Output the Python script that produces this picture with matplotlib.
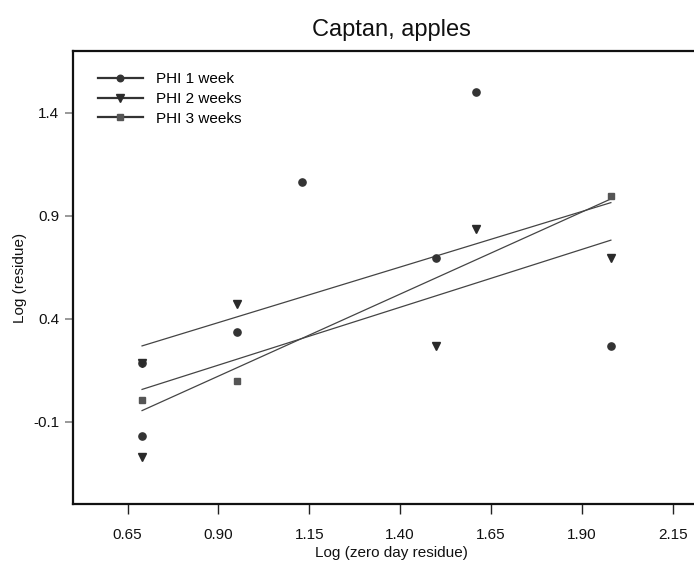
import numpy as np
import matplotlib
matplotlib.use("Agg")
import matplotlib.pyplot as plt
from matplotlib.lines import Line2D

plt.rcParams['font.family'] = ['Liberation Sans', 'DejaVu Sans']

# Log (zero day residue) vs Log (residue) by pre-harvest interval
phi1_x = [0.69, 0.69, 0.95, 1.13, 1.50, 1.61, 1.98]
phi1_y = [-0.17, 0.185, 0.337, 1.065, 0.695, 1.503, 0.266]

phi2_x = [0.69, 0.69, 0.95, 1.50, 1.61, 1.98]
phi2_y = [-0.27, 0.185, 0.471, 0.266, 0.835, 0.695]

phi3_x = [0.69, 0.95, 1.98]
phi3_y = [0.003, 0.099, 0.994]

labels = ["PHI 1 week", "PHI 2 weeks", "PHI 3 weeks"]
x_ticks = [0.65, 0.90, 1.15, 1.40, 1.65, 1.90, 2.15]
y_ticks = [1.4, 0.9, 0.4, -0.1]

fig = plt.figure(figsize=(6.94, 5.69), dpi=100)
ax = fig.add_axes([73 / 694, 65 / 569, 636 / 694, 453 / 569])

series = [
    (phi1_x, phi1_y, 'o', '#333333', 5.2),
    (phi2_x, phi2_y, 'v', '#2a2a2a', 5.8),
    (phi3_x, phi3_y, 's', '#555555', 4.8),
]

handles = []
for (xs, ys, mk, col, ms), lab in zip(series, labels):
    xs = np.asarray(xs)
    ys = np.asarray(ys)
    ax.plot(xs, ys, ls='none', marker=mk, color=col, ms=ms, mec=col, zorder=3)
    slope, icpt = np.polyfit(xs, ys, 1)
    xx = np.array([xs.min(), xs.max()])
    ax.plot(xx, slope * xx + icpt, color='#444444', lw=0.9, zorder=2)
    handles.append(Line2D([], [], color='#333333', lw=1.6, marker=mk,
                          ms=ms - 0.5, mfc=col, mec=col, label=lab))

ax.set_xlim(0.5, 2.25)
ax.set_ylim(-0.5, 1.7)
ax.set_xticks(x_ticks)
ax.set_xticklabels([f"{v:.2f}" for v in x_ticks])
ax.set_yticks(y_ticks)
ax.set_yticklabels([f"{v:.1f}" for v in y_ticks])

for s in ['left', 'bottom', 'top']:
    ax.spines[s].set_linewidth(1.6)
    ax.spines[s].set_color('#111111')
ax.spines['right'].set_visible(False)

ax.tick_params(axis='x', direction='out', length=7, width=1.0, color='#222222',
               labelsize=11, pad=10, labelcolor='#111111')
ax.tick_params(axis='y', direction='out', length=6, width=1.2, color='#888888',
               labelsize=11, pad=4, labelcolor='#111111')

ax.set_xlabel("Log (zero day residue)", fontsize=11, labelpad=3.5, color='#111111')
ax.set_ylabel("Log (residue)", fontsize=11, labelpad=4, color='#111111')
ax.set_title("Captan, apples", fontsize=17, pad=11, color='#111111')

ax.legend(handles=handles, loc='upper left', bbox_to_anchor=(0.023, 0.977),
          frameon=False, fontsize=11, handlelength=2.9, handletextpad=0.9,
          labelspacing=0.38, borderaxespad=0.3)

fig.savefig("out.png", dpi=100)
